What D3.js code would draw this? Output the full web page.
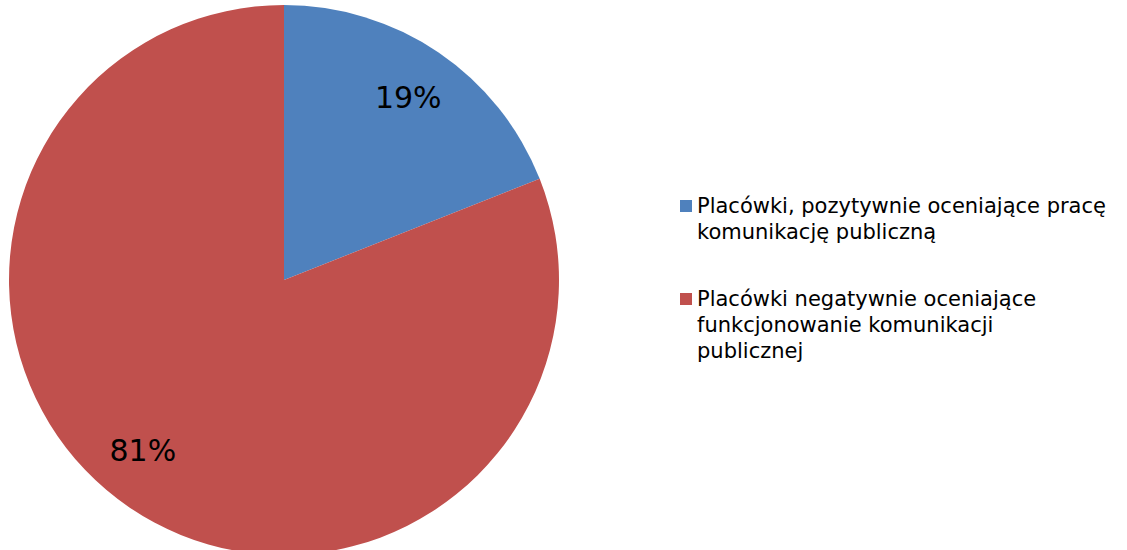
<!DOCTYPE html>
<html>
<head>
<meta charset="utf-8">
<script src="https://cdn.jsdelivr.net/npm/d3@7"></script>
<style>
  body { margin: 0; background: #fff; }
  svg text { font-family: Verdana, "DejaVu Sans", sans-serif; fill: #000; }
</style>
</head>
<body>
<svg id="chart" width="1127" height="550"></svg>
<script>
// chart data
var categories = [
  "Placówki, pozytywnie oceniające pracę komunikację publiczną",
  "Placówki negatywnie oceniające funkcjonowanie komunikacji publicznej"
];
var values = [19, 81];
var legendLines = [
  ["Placówki, pozytywnie oceniające pracę", "komunikację publiczną"],
  ["Placówki negatywnie oceniające", "funkcjonowanie komunikacji", "publicznej"]
];
var colours = ["#4F81BD", "#C0504D"];

var svg = d3.select("#chart");

// pie geometry
var cx = 284, cy = 280, radius = 275;
var labelRadius = 221;

var pie = d3.pie().sort(null).value(function (d) { return d; });
var arc = d3.arc().innerRadius(0).outerRadius(radius);

var g = svg.append("g").attr("transform", "translate(" + cx + "," + cy + ")");

g.selectAll("path")
  .data(pie(values))
  .enter()
  .append("path")
  .attr("d", arc)
  .attr("fill", function (d, i) { return colours[i]; });

// percentage labels - excel nudges the big slice's label a bit round
var labelNudge = [0, 0.096];
function labelPos(d, i) {
  var a = (d.startAngle + d.endAngle) / 2 + labelNudge[i];
  return [labelRadius * Math.sin(a), -labelRadius * Math.cos(a)];
}

g.selectAll("text.pct")
  .data(pie(values))
  .enter()
  .append("text")
  .attr("class", "pct")
  .attr("x", function (d, i) { return labelPos(d, i)[0]; })
  .attr("y", function (d, i) { return labelPos(d, i)[1] + 11; })
  .attr("text-anchor", "middle")
  .style("font-size", "30px")
  .text(function (d) { return d.data + "%"; });

// legend
var legendTop = [213, 306];
var legend = svg.selectAll("g.legend")
  .data(categories)
  .enter()
  .append("g")
  .attr("class", "legend");

legend.append("rect")
  .attr("x", 680)
  .attr("y", function (d, i) { return legendTop[i] - 13; })
  .attr("width", 12)
  .attr("height", 12)
  .attr("fill", function (d, i) { return colours[i]; });

legend.each(function (d, i) {
  var t = d3.select(this).append("text")
    .attr("x", 697)
    .attr("y", legendTop[i])
    .style("font-size", "21px");
  legendLines[i].forEach(function (line, j) {
    t.append("tspan")
      .attr("x", 697)
      .attr("dy", j === 0 ? 0 : 26)
      .text(line);
  });
});
</script>
</body>
</html>
